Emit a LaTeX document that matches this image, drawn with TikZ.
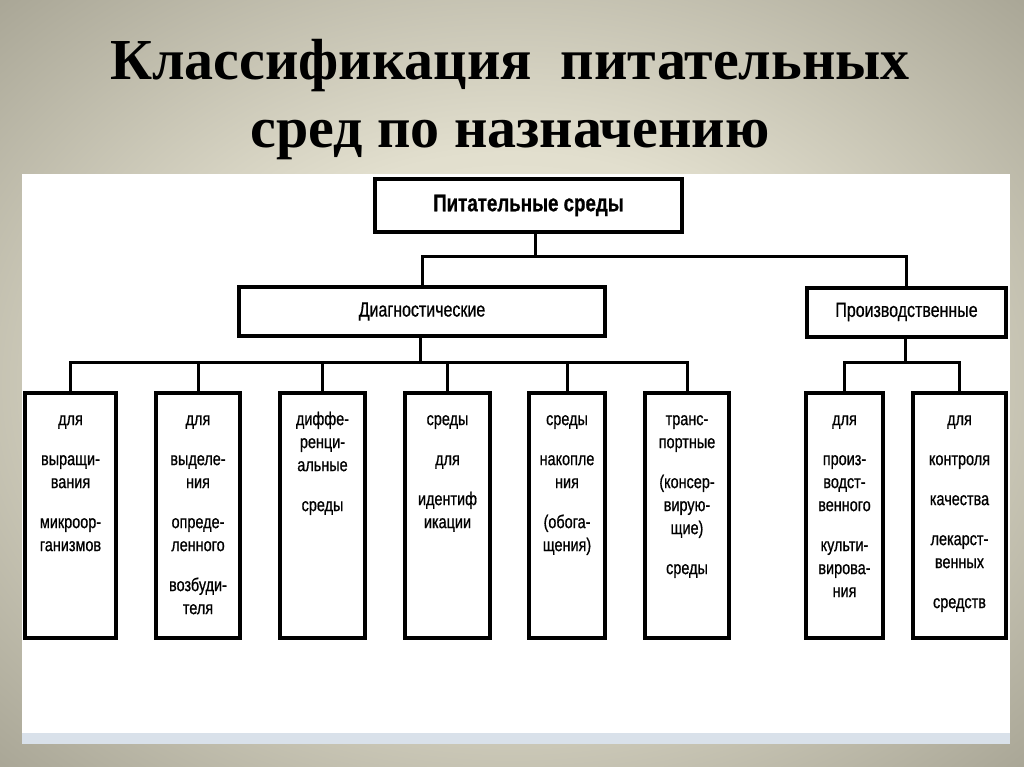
\documentclass[tikz,border=0pt]{standalone}
\usepackage{fontspec}
\setmainfont{Liberation Serif}
\newfontfamily\boxfont[FakeStretch=0.78, FakeBold=0.7]{Liberation Sans}
\usetikzlibrary{positioning}

\definecolor{bgin}{RGB}{236,233,216}
\definecolor{bgnear}{RGB}{226,223,206}
\definecolor{bgmid}{RGB}{165,162,146}
\definecolor{bgout}{RGB}{122,120,106}
\definecolor{stripblue}{RGB}{217,225,234}
\pgfdeclareradialshading{slidebg}{\pgfpoint{0bp}{0bp}}{color(0bp)=(bgin); color(15bp)=(bgnear); color(37bp)=(bgmid); color(50bp)=(bgout)}

% text of a leaf box, set from the top
\newcommand{\leafpar}[2]{\parbox[c][245pt][t]{#1}{\centering\boxfont\fontsize{18.5}{23}\selectfont\vspace*{16pt}\strut #2}}

\tikzset{
  title/.style={anchor=base, inner sep=0pt, font=\bfseries\fontsize{58}{66}\selectfont},
  topbox/.style={draw, line width=4pt, fill=white, minimum width=307pt, minimum height=53pt, font={\boxfont\bfseries\fontsize{24}{28}\selectfont}},
  midbox/.style={draw, line width=4pt, fill=white, minimum height=49pt, font={\boxfont\fontsize{20.5}{24}\selectfont}},
  leaf/.style={draw, line width=4pt, fill=white, inner sep=0pt},
  link/.style={line width=3pt, line cap=rect}
}

\begin{document}
\begin{tikzpicture}[x=1pt, y=-1pt]
    \useasboundingbox (0,0) rectangle (1024,767);
    % slide
    \shade[shading=slidebg] (0,0) rectangle (1024,767);
    \fill[white] (22,174) rectangle (1010,744);
    \fill[stripblue] (22,733) rectangle (1010,744);
    % title
    \node[title] (t1) at (510,80) {Классификация\ \ питательных};
    \node[title] (t2) at (510,148) {сред по назначению};
    % boxes
    \node[topbox] (root) at (528.5,205.5) {Питательные среды};
    \node[midbox, minimum width=366pt] (diag) at (422,311.5) {Диагностические};
    \node[midbox, minimum width=199pt] (prod) at (906.5,312) {Производственные};
    \node[leaf] (grow) at (70.5,515.5) {\leafpar{91pt}{для\\[17pt]выращи-\\вания\\[17pt]микроор-\\ганизмов}};
    \node[leaf] (isol) at (198,515.5) {\leafpar{84pt}{для\\[17pt]выделе-\\ния\\[17pt]опреде-\\ленного\\[17pt]возбуди-\\теля}};
    \node[leaf] (diff) at (322.5,515.5) {\leafpar{85pt}{диффе-\\ренци-\\альные\\[17pt]среды}};
    \node[leaf] (ident) at (447.5,515.5) {\leafpar{85pt}{среды\\[17pt]для\\[17pt]идентиф\\икации}};
    \node[leaf] (accum) at (567,515.5) {\leafpar{76pt}{среды\\[17pt]накопле\\ния\\[17pt](обога-\\щения)}};
    \node[leaf] (transp) at (687,515.5) {\leafpar{84pt}{транс-\\портные\\[17pt](консер-\\вирую-\\щие)\\[17pt]среды}};
    \node[leaf] (prodn) at (844.5,515.5) {\leafpar{77pt}{для\\[17pt]произ-\\водст-\\венного\\[17pt]культи-\\вирова-\\ния}};
    \node[leaf] (ctrl) at (959.5,515.5) {\leafpar{93pt}{для\\[17pt]контроля\\[17pt]качества\\[17pt]лекарст-\\венных\\[17pt]средств}};
    % branch points
    \coordinate (busA) at (535,256);
    \coordinate (busB) at (420,362);
    \coordinate (busC) at (905,362);
    % links
    \draw[link] (root.south -| busA) -- (busA);
    \draw[link] (diag.north) -- (diag.north |- busA) -- (prod.north |- busA) -- (prod.north);
    \draw[link] (diag.south -| busB) -- (busB);
    \draw[link] (grow.north |- busB) -- (transp.north |- busB);
    \foreach \n in {grow,isol,diff,ident,accum,transp}
      \draw[link] (\n.north |- busB) -- (\n.north);
    \draw[link] (prod.south -| busC) -- (busC);
    \draw[link] (prodn.north |- busC) -- (ctrl.north |- busC);
    \foreach \n in {prodn,ctrl}
      \draw[link] (\n.north |- busC) -- (\n.north);
\end{tikzpicture}
\end{document}
